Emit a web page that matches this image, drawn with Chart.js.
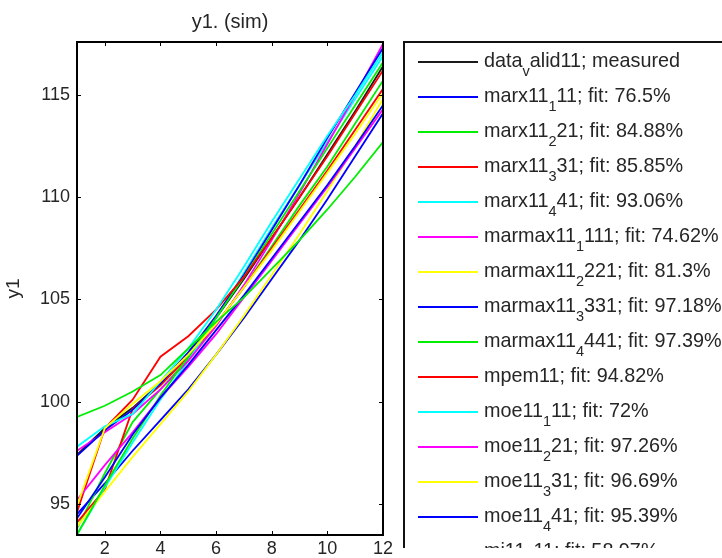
<!DOCTYPE html>
<html>
<head>
<meta charset="utf-8">
<title>y1. (sim)</title>
<script src="https://cdn.jsdelivr.net/npm/chart.js@4.4.1/dist/chart.umd.min.js"></script>
<style>
  html, body { margin: 0; padding: 0; background: #ffffff; }
  #chart { display: block; }
</style>
</head>
<body>
<canvas id="chart" width="722" height="558"></canvas>
<script>
// Sample index (x axis).
var xValues = [1, 2, 3, 4, 5, 6, 7, 8, 9, 10, 11, 12];
var xTicks = [2, 4, 6, 8, 10, 12];
var yTicks = [95, 100, 105, 110, 115];

// Simulated outputs.
var measured   = [97.4, 98.7, 99.7, 100.9, 102.4, 104.1, 106.0, 108.0, 110.0, 112.1, 114.2, 116.4];
var marx11_1   = [94.5, 96.0, 97.6, 99.1, 100.6, 102.3, 104.1, 106.0, 107.9, 109.9, 112.0, 114.1];
var marx11_2   = [93.8, 96.5, 99.0, 100.6, 102.1, 103.8, 105.6, 107.6, 109.6, 111.5, 113.6, 115.7];
var marx11_3   = [94.1, 95.7, 99.65, 100.8, 102.2, 103.8, 105.6, 107.5, 109.4, 111.3, 113.3, 115.3];
var marx11_4   = [93.5, 95.8, 98.0, 100.1, 102.0, 104.1, 106.3, 108.5, 110.6, 112.7, 114.8, 116.9];
var marmax11_1 = [97.6, 98.5, 99.4, 100.6, 102.0, 103.7, 105.7, 107.9, 110.2, 112.6, 115.0, 117.5];
var marmax11_2 = [93.9, 95.6, 97.3, 98.9, 100.5, 102.3, 104.2, 106.2, 108.2, 110.3, 112.5, 114.8];
var marmax11_3 = [97.35, 98.6, 99.6, 100.9, 102.4, 104.2, 106.2, 108.4, 110.6, 112.9, 115.1, 117.3];
var marmax11_4 = [93.5, 95.9, 98.2, 100.3, 102.2, 104.1, 106.1, 108.2, 110.3, 112.4, 114.5, 116.6];
var mpem11     = [94.6, 98.7, 100.1, 102.2, 103.2, 104.5, 106.1, 108.0, 110.0, 112.0, 114.1, 116.2];
var moe11_1    = [97.8, 98.8, 99.4, 101.0, 102.6, 104.5, 106.6, 108.8, 110.9, 113.0, 115.0, 117.1];
var moe11_2    = [95.2, 96.9, 98.5, 100.2, 101.7, 103.3, 105.1, 106.9, 108.7, 110.5, 112.4, 114.3];
var moe11_3    = [94.9, 98.7, 99.9, 101.0, 102.3, 103.8, 105.6, 107.4, 109.3, 111.2, 113.1, 115.1];
var moe11_4    = [94.3, 96.3, 98.4, 100.2, 101.8, 103.5, 105.2, 107.0, 108.8, 110.6, 112.5, 114.5];
var mi11_1     = [99.25, 99.8, 100.5, 101.3, 102.6, 103.9, 105.1, 106.5, 107.9, 109.4, 111.0, 112.7];

// Legend labels ("_" subscripts the next character, like TeX).
var seriesLabels = [
  'data_valid11; measured',
  'marx11_111; fit: 76.5%',
  'marx11_221; fit: 84.88%',
  'marx11_331; fit: 85.85%',
  'marx11_441; fit: 93.06%',
  'marmax11_1111; fit: 74.62%',
  'marmax11_2221; fit: 81.3%',
  'marmax11_3331; fit: 97.18%',
  'marmax11_4441; fit: 97.39%',
  'mpem11; fit: 94.82%',
  'moe11_111; fit: 72%',
  'moe11_221; fit: 97.26%',
  'moe11_331; fit: 96.69%',
  'moe11_441; fit: 95.39%',
  'mi11_111; fit: 58.97%'
];
var seriesValues = [
  measured, marx11_1, marx11_2, marx11_3, marx11_4,
  marmax11_1, marmax11_2, marmax11_3, marmax11_4,
  mpem11, moe11_1, moe11_2, moe11_3, moe11_4, mi11_1
];

var fontFamily = '"Liberation Sans", Arial, Helvetica, sans-serif';
var textColor = '#262626';
// MATLAB line colour cycle, measured data in black.
var colorCycle = ['#0000ff', '#00ee00', '#ff0000', '#00ffff', '#ff00ff', '#ffff00'];

/**
 * @description Split a TeX-like label into plain and subscript parts.
 *
 * @param text: string
 *
 * @return Array<{text: string, sub: boolean}>
 */
function parseSubscripts(text) {
  var parts = [];
  var buf = '';
  for (var i = 0; i < text.length; i++) {
    if (text[i] === '_' && i + 1 < text.length) {
      if (buf) parts.push({ text: buf, sub: false });
      parts.push({ text: text[i + 1], sub: true });
      buf = '';
      i++;
    } else {
      buf += text[i];
    }
  }
  if (buf) parts.push({ text: buf, sub: false });
  return parts;
}

/**
 * @description Draw the axes box with inward ticks on every side.
 */
function drawAxesBox(chart) {
  var ctx = chart.ctx;
  var area = chart.chartArea;
  var xScale = chart.scales.x;
  var yScale = chart.scales.y;
  var tick = 4;

  ctx.save();
  ctx.strokeStyle = '#000000';
  ctx.lineWidth = 1;
  ctx.beginPath();
  xScale.ticks.forEach(function (t) {
    var px = Math.round(xScale.getPixelForValue(t.value)) + 0.5;
    ctx.moveTo(px, area.bottom);
    ctx.lineTo(px, area.bottom - tick);
    ctx.moveTo(px, area.top);
    ctx.lineTo(px, area.top + tick);
  });
  yScale.ticks.forEach(function (t) {
    var py = Math.round(yScale.getPixelForValue(t.value)) + 0.5;
    ctx.moveTo(area.left, py);
    ctx.lineTo(area.left + tick, py);
    ctx.moveTo(area.right, py);
    ctx.lineTo(area.right - tick, py);
  });
  ctx.stroke();

  ctx.lineWidth = 2;
  ctx.strokeRect(area.left, area.top, area.right - area.left, area.bottom - area.top);
  ctx.restore();
}

/**
 * @description Draw the boxed legend to the right of the axes (cut off like the source).
 */
function drawLegend(chart) {
  var ctx = chart.ctx;
  var area = chart.chartArea;
  var boxLeft = area.right + 21;
  var boxTop = area.top;
  var rowTop = boxTop + 20;
  var rowStep = 35;

  ctx.save();
  ctx.beginPath();
  ctx.rect(0, 0, chart.width, 548);
  ctx.clip();

  ctx.strokeStyle = '#111111';
  ctx.lineWidth = 2;
  ctx.strokeRect(boxLeft, boxTop, 600, 700);

  chart.data.datasets.forEach(function (ds, i) {
    var y = rowTop + i * rowStep;
    ctx.strokeStyle = ds.borderColor;
    ctx.lineWidth = 2;
    ctx.beginPath();
    ctx.moveTo(boxLeft + 14, y);
    ctx.lineTo(boxLeft + 74, y);
    ctx.stroke();

    var x = boxLeft + 80;
    ctx.fillStyle = textColor;
    ctx.textBaseline = 'alphabetic';
    ctx.textAlign = 'left';
    parseSubscripts(ds.label).forEach(function (part) {
      ctx.font = (part.sub ? '14.5px ' : '19.8px ') + fontFamily;
      ctx.fillText(part.text, x, part.sub ? y + 14 : y + 5);
      x += ctx.measureText(part.text).width;
    });
  });
  ctx.restore();
}

var matlabFramePlugin = {
  id: 'matlabFrame',
  afterDatasetsDraw: function (chart) {
    drawAxesBox(chart);
  },
  afterDraw: function (chart) {
    var ctx = chart.ctx;
    var area = chart.chartArea;
    ctx.save();
    ctx.fillStyle = textColor;
    ctx.font = '20px ' + fontFamily;
    ctx.textAlign = 'center';
    ctx.textBaseline = 'middle';
    ctx.fillText('y1. (sim)', (area.left + area.right) / 2, 22);
    ctx.restore();
    drawLegend(chart);
  }
};

var datasets = seriesValues.map(function (values, i) {
  return {
    label: seriesLabels[i],
    data: xValues.map(function (x, j) { return { x: x, y: values[j] }; }),
    borderColor: i === 0 ? '#1a1a1a' : colorCycle[(i - 1) % colorCycle.length],
    borderWidth: 1.8,
    pointRadius: 0,
    tension: 0,
    fill: false,
    // later series on top, like MATLAB
    order: seriesValues.length - i
  };
});

new Chart(document.getElementById('chart'), {
  type: 'line',
  data: { datasets: datasets },
  options: {
    responsive: false,
    animation: false,
    devicePixelRatio: 1,
    layout: { padding: { left: 0, right: 339, top: 42, bottom: 0 } },
    plugins: {
      legend: { display: false },
      tooltip: { enabled: false },
      title: { display: false }
    },
    scales: {
      x: {
        type: 'linear',
        min: 1,
        max: 12,
        grid: { display: false, drawTicks: false },
        border: { display: false },
        ticks: { color: textColor, font: { family: fontFamily, size: 18 }, padding: 3, maxRotation: 0 },
        afterBuildTicks: function (scale) {
          scale.ticks = xTicks.map(function (v) { return { value: v }; });
        },
        afterFit: function (scale) { scale.height = 23; }
      },
      y: {
        type: 'linear',
        min: 93.48,
        max: 117.59,
        grid: { display: false, drawTicks: false },
        border: { display: false },
        ticks: { color: textColor, font: { family: fontFamily, size: 18 }, padding: 7 },
        title: {
          display: true,
          text: 'y1',
          color: textColor,
          font: { family: fontFamily, size: 19 },
          padding: { top: 2, bottom: 0 }
        },
        afterBuildTicks: function (scale) {
          scale.ticks = yTicks.map(function (v) { return { value: v }; });
        },
        afterFit: function (scale) { scale.width = 77; }
      }
    }
  },
  plugins: [matlabFramePlugin]
});
</script>
</body>
</html>
